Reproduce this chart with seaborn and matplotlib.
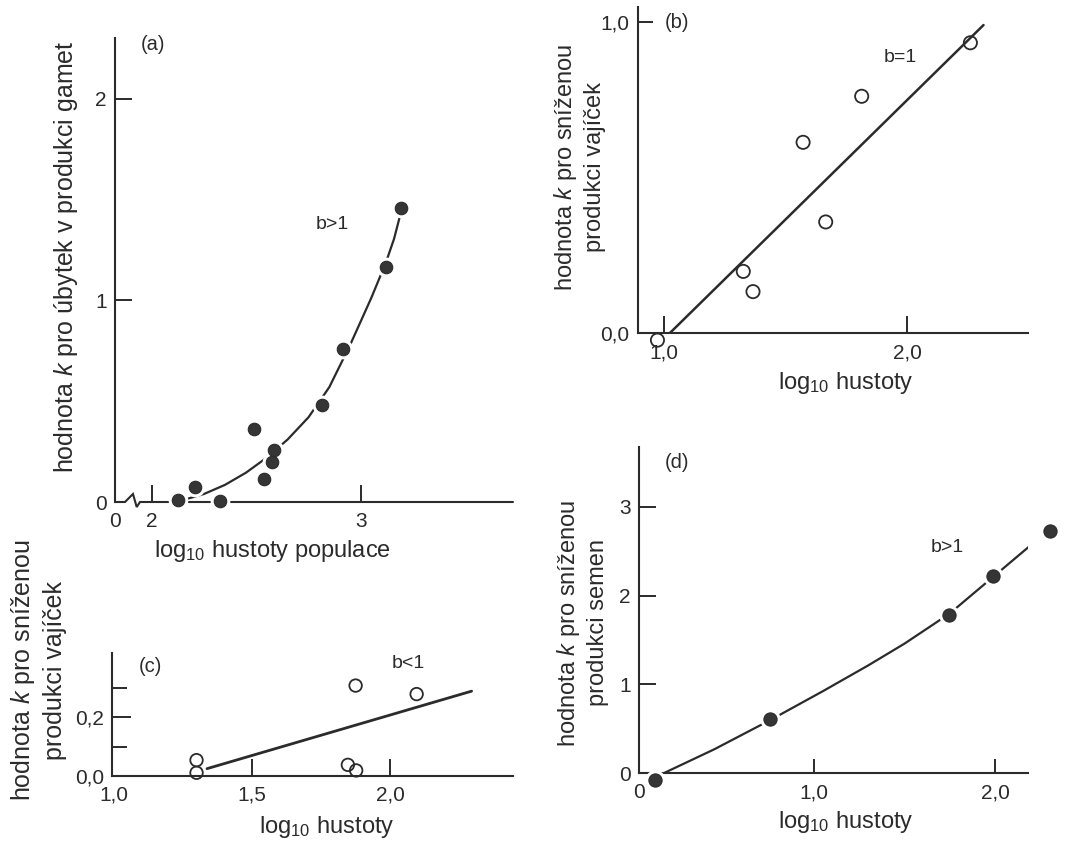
import matplotlib
matplotlib.use("Agg")
import matplotlib.pyplot as plt
import seaborn as sns

# ---------------- data ----------------
# (a) k-value for loss of gamete production vs log10 population density
a_x = [2.125, 2.208, 2.325, 2.491, 2.536, 2.576, 2.584, 2.813, 2.915, 3.12, 3.192]
a_y = [0.012, 0.076, 0.005, 0.36, 0.115, 0.198, 0.257, 0.48, 0.76, 1.165, 1.457]
a_curve_x = [2.15, 2.25, 2.35, 2.45, 2.55, 2.65, 2.75, 2.85, 2.95, 3.05, 3.12, 3.16, 3.195]
a_curve_y = [0.01, 0.04, 0.085, 0.145, 0.22, 0.31, 0.42, 0.57, 0.78, 1.01, 1.185, 1.305, 1.445]

# (b) k-value for reduced egg production, b = 1
b_x = [0.973, 1.326, 1.366, 1.572, 1.665, 1.813, 2.26]
b_y = [-0.022, 0.199, 0.134, 0.614, 0.358, 0.762, 0.934]
b_line_x = [1.023, 2.314]
b_line_y = [0.0, 0.991]

# (c) k-value for reduced egg production, b < 1
c_x = [1.299, 1.299, 1.847, 1.877, 1.875, 2.096]
c_y = [0.054, 0.011, 0.038, 0.019, 0.308, 0.279]
c_line_x = [1.337, 2.295]
c_line_y = [0.025, 0.289]

# (d) k-value for reduced seed production, b > 1
d_x = [0.126, 0.759, 1.744, 1.99, 2.30]
d_y = [-0.075, 0.607, 1.78, 2.22, 2.73]
d_curve_x = [0.17, 0.45, 0.76, 1.05, 1.30, 1.50, 1.75, 2.00, 2.25]
d_curve_y = [0.0, 0.27, 0.60, 0.925, 1.215, 1.46, 1.80, 2.23, 2.66]

# ---------------- style ----------------
sns.set_theme(style="white")
plt.rcParams["font.family"] = ["Liberation Sans", "DejaVu Sans"]
plt.rcParams["mathtext.fontset"] = "custom"
plt.rcParams["mathtext.rm"] = "Liberation Sans"
plt.rcParams["mathtext.it"] = "Liberation Sans:italic"
plt.rcParams["mathtext.bf"] = "Liberation Sans:bold"

INK = "#2b2b2b"
W, H = 1074, 843
TICK_FS = 15

fig = plt.figure(figsize=(W / 100, H / 100), dpi=100)
fig.patch.set_facecolor("white")


def frame(left, top, right, bottom):
    """Axes rectangle given in pixel coordinates (origin top-left)."""
    return [left / W, 1 - bottom / H, (right - left) / W, (bottom - top) / H]


def fpos(x, y):
    return x / W, 1 - y / H


def style_axes(ax, xlen=12, ylen=12):
    ax.set_facecolor("none")
    ax.grid(False)
    for s in ("top", "right"):
        ax.spines[s].set_visible(False)
    for s in ("left", "bottom"):
        ax.spines[s].set_color(INK)
        ax.spines[s].set_linewidth(1.5)
    ax.tick_params(direction="in", width=1.4, color=INK, bottom=True,
                   left=True, top=False, right=False,
                   labelsize=TICK_FS, labelcolor=INK)
    ax.tick_params(axis="x", length=xlen, pad=7)
    ax.tick_params(axis="y", length=ylen, pad=6)
    ax.set_xlabel("")
    ax.set_ylabel("")


def filled_points(ax, xs, ys, dia=9.0, halo=2.6):
    # white halo first so the curve is interrupted around each dot
    sns.scatterplot(x=xs, y=ys, ax=ax, s=(dia + 2 * halo) ** 2, color="white",
                    linewidth=0, zorder=3, clip_on=False, legend=False)
    sns.scatterplot(x=xs, y=ys, ax=ax, s=dia ** 2, color="#353535",
                    edgecolor=INK, linewidth=0.8, zorder=4, clip_on=False,
                    legend=False)


def open_points(ax, xs, ys, dia=9.5):
    sns.scatterplot(x=xs, y=ys, ax=ax, s=dia ** 2, color=INK, marker="o",
                    zorder=4, clip_on=False, legend=False)
    coll = ax.collections[-1]
    coll.set_facecolor("none")
    coll.set_edgecolor(INK)
    coll.set_linewidth(1.3)


def line(ax, xs, ys, lw):
    sns.lineplot(x=xs, y=ys, ax=ax, color=INK, linewidth=lw, sort=False,
                 estimator=None, legend=False, zorder=2)


def vlabel(x, y, text, fs):
    fig.text(*fpos(x, y), text, rotation=90, ha="center", va="center",
             multialignment="center", linespacing=1.3, fontsize=fs,
             color=INK)


def hlabel(x, y, text, fs=17):
    fig.text(*fpos(x, y), text, ha="center", va="center", fontsize=fs,
             color=INK)


LOG_X = r"log$_{\mathregular{10}}$ hustoty"
K_EGG = "hodnota $\\mathit{k}$ pro sníženou\nprodukci vajíček"

# ---------------- (a) ----------------
axa = fig.add_axes(frame(115, 38.3, 513, 502))
line(axa, a_curve_x, a_curve_y, 1.6)
filled_points(axa, a_x, a_y)
a_xmin, a_xmax = 1.823, 3.73
axa.set_xlim(a_xmin, a_xmax)
axa.set_ylim(0, 2.30)
style_axes(axa)
axa.set_xticks([a_xmin, 2, 3], ["0", "2", "3"])
axa.set_yticks([0, 1, 2], ["0", "1", "2"])
axa.xaxis.get_major_ticks()[0].tick1line.set_visible(False)
axa.yaxis.get_major_ticks()[0].tick1line.set_visible(False)
# broken x axis between 0 and 2
axa.spines["bottom"].set_visible(False)
axa.plot([0, 0.0251, 0.0452, 0.0545, 0.0628, 1], [0, 0, 0.0173, -0.0108, 0, 0],
         transform=axa.transAxes, color=INK, lw=1.5, clip_on=False,
         solid_joinstyle="miter")
vlabel(66, 257, "hodnota $\\mathit{k}$ pro úbytek v produkci gamet", 18)
hlabel(272, 551, LOG_X + " populace")
hlabel(153, 45, "(a)", 14.5)
hlabel(332, 225, "b>1", 14)

# ---------------- (b) ----------------
axb = fig.add_axes(frame(638, 6.7, 1028, 333.3))
line(axb, b_line_x, b_line_y, 1.8)
open_points(axb, b_x, b_y)
axb.set_xlim(0.893, 2.497)
axb.set_ylim(0, 1.05)
style_axes(axb, xlen=12, ylen=11)
axb.set_xticks([1.0, 2.0], ["1,0", "2,0"])
axb.set_yticks([0.0, 1.0], ["0,0", "1,0"])
axb.yaxis.get_major_ticks()[0].tick1line.set_visible(False)
vlabel(579, 167, K_EGG, 17)
hlabel(846, 383, LOG_X)
hlabel(677, 23, "(b)", 14.5)
hlabel(900, 58, "b=1", 14)

# ---------------- (c) ----------------
axc = fig.add_axes(frame(112.3, 652.7, 513.3, 776))
line(axc, c_line_x, c_line_y, 2.0)
open_points(axc, c_x, c_y, dia=9.0)
axc.set_xlim(0.994, 2.446)
axc.set_ylim(0, 0.42)
style_axes(axc, xlen=12, ylen=14)
axc.set_xticks([1.0, 1.5, 2.0], ["1,0", "1,5", "2,0"])
axc.set_yticks([0.0, 0.2], ["0,0", "0,2"])
axc.set_yticks([0.1, 0.3], minor=True)
axc.tick_params(axis="y", which="minor", direction="in", length=11,
                width=1.4, color=INK, left=True)
axc.xaxis.get_major_ticks()[0].tick1line.set_visible(False)
axc.yaxis.get_major_ticks()[0].tick1line.set_visible(False)
vlabel(38, 670, K_EGG, 18)
hlabel(327, 827, LOG_X)
hlabel(150, 667, "(c)", 14.5)
hlabel(408, 663, "b<1", 14)

# ---------------- (d) ----------------
axd = fig.add_axes(frame(639, 447.3, 1028.3, 773.3))
line(axd, d_curve_x, d_curve_y, 1.6)
filled_points(axd, d_x, d_y, dia=9.5)
d_xmin = 0.035
axd.set_xlim(d_xmin, 2.183)
axd.set_ylim(0, 3.67)
style_axes(axd, xlen=10, ylen=12)
axd.set_xticks([d_xmin, 1.0, 2.0], ["0", "1,0", "2,0"])
axd.set_yticks([0, 1, 2, 3], ["0", "1", "2", "3"])
axd.xaxis.get_major_ticks()[0].tick1line.set_visible(False)
axd.yaxis.get_major_ticks()[0].tick1line.set_visible(False)
vlabel(582, 623, "hodnota $\\mathit{k}$ pro sníženou\nprodukci semen", 17)
hlabel(846, 822, LOG_X)
hlabel(677, 463, "(d)", 14.5)
hlabel(947, 547, "b>1", 14)

fig.savefig("out.png", dpi=100, facecolor="white")
